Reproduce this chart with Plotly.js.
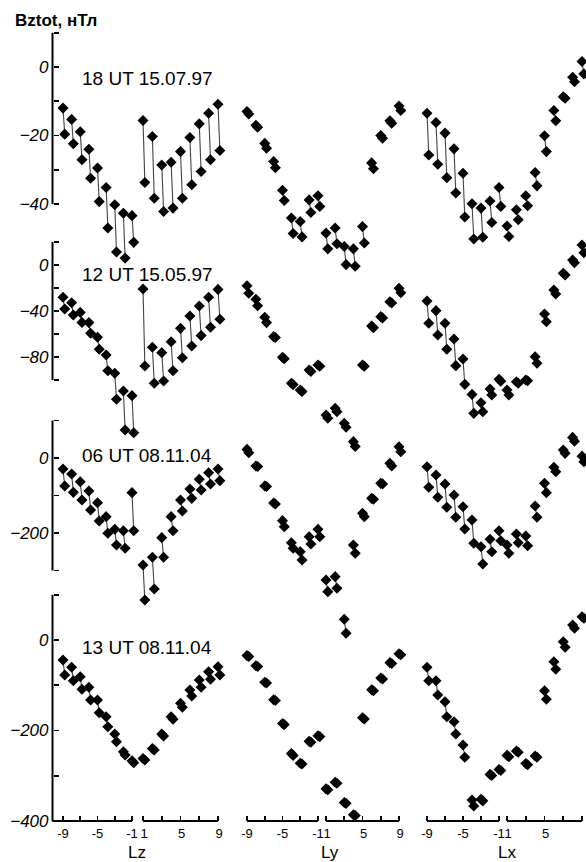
<!DOCTYPE html>
<html><head><meta charset="utf-8">
<script src="https://cdn.plot.ly/plotly-3.0.1.min.js"></script>
<style>html,body{margin:0;padding:0;background:#fff}#chart{width:586px;height:862px}
#chart g.ytick text, #chart g.y2tick text, #chart g.y3tick text, #chart g.y4tick text{font-style:italic !important}</style>
</head><body><div id="chart"></div>
<script>
// ---------- categories / labels ----------
const L_NEG = [-9,-8,-7,-6,-5,-4,-3,-2,-1];
const L_POS = [1,2,3,4,5,6,7,8,9];
const GROUP_NAMES = ['Lz','Ly','Lx'];
const ROW_LABELS = ['18 UT 15.07.97','12 UT 15.05.97','06 UT 08.11.04','13 UT 08.11.04'];
const Y_TITLE = 'Bztot, нТл';
const X_TICKS_NEG = [-9,-7,-5,-3,-1];
const X_TICKTEXT_NEG = ['-9','','-5','','-1'];
const X_TICKS_POS = [1,3,5,7,9];
const X_TICKTEXT_POS = ['1','','5','','9'];
const Y_TICKS_1 = [10,0,-10,-20,-30,-40];
const Y_TICKTEXT_1 = ['','0','','\u221220','','\u221240'];
const Y_TICKS_2 = [20,0,-20,-40,-60,-80,-100];
const Y_TICKTEXT_2 = ['','0','','\u221240','','\u221280',''];
const Y_TICKS_3 = [100,0,-100,-200,-300];
const Y_TICKTEXT_3 = ['','0','','\u2212200',''];
const Y_TICKS_4 = [100,0,-100,-200,-300,-400];
const Y_TICKTEXT_4 = ['','0','','\u2212200','','\u2212400'];

// ---------- values (L = -9..-1, then 1..9); A and B = the two values of each pair ----------
// Row 1: 18 UT 15.07.97
const r1_Lz_A = [-12.0,-15.3,-18.9,-24.0,-29.5,-35.2,-40.2,-42.7,-43.4, -15.6,-20.3,-28.6,-27.8,-24.7,-20.6,-16.6,-13.5,-10.9];
const r1_Lz_B = [-19.6,-22.4,-27.1,-32.5,-39.3,-47.0,-54.0,-55.8,-51.2, -33.7,-38.3,-42.2,-41.2,-38.3,-34.4,-30.5,-27.1,-24.4];
const r1_Ly_A = [-13.0,-17.0,-22.3,-27.6,-36.0,-44.1,-45.1,-38.8,-37.6, -48.5,-47.0,-52.4,-53.1,-46.6,-28.0,-20.0,-15.7,-11.4];
const r1_Ly_B = [-13.7,-17.6,-23.7,-29.4,-39.0,-48.6,-49.6,-42.5,-40.7, -53.1,-51.6,-57.7,-58.2,-51.4,-29.7,-20.8,-16.4,-12.7];
const r1_Lx_A = [-13.5,-16.2,-19.3,-23.9,-31.0,-39.9,-41.2,-39.1,-35.2, -46.4,-41.7,-37.6,-30.8,-20.1,-12.7,-8.7,-3.0,1.6];
const r1_Lx_B = [-25.7,-28.4,-32.3,-36.8,-43.8,-50.2,-49.7,-45.4,-40.7, -49.5,-44.6,-40.5,-34.7,-24.7,-15.7,-9.1,-4.3,-2.0];
// Row 2: 12 UT 15.05.97
const r2_Lz_A = [-28.1,-32.8,-41.2,-50.1,-62.9,-78.3,-94.2,-109.6,-113.6, -20.9,-71.6,-76.2,-66.7,-55.1,-44.3,-35.7,-28.1,-21.2];
const r2_Lz_B = [-38.3,-43.5,-49.9,-59.4,-73.3,-91.9,-116.8,-143.5,-145.8, -87.8,-102.9,-100.9,-91.9,-80.6,-70.4,-61.4,-54.2,-47.2];
const r2_Ly_A = [-18.0,-29.8,-45.5,-62.3,-80.3,-102.9,-108.7,-91.3,-87.0, -130.4,-124.6,-137.7,-153.6,-87.0,-53.0,-44.9,-31.9,-20.3];
const r2_Ly_B = [-24.6,-35.5,-50.1,-63.0,-81.5,-104.0,-110.0,-92.5,-88.0, -133.3,-127.5,-141.1,-157.9,-88.0,-54.5,-46.0,-33.0,-24.1];
const r2_Lx_A = [-31.3,-39.7,-50.7,-64.3,-81.7,-112.5,-119.7,-107.8,-99.4, -108.7,-101.5,-100.0,-79.7,-42.6,-21.7,-7.2,4.3,17.4];
const r2_Lx_B = [-50.7,-60.9,-73.3,-87.5,-103.8,-129.0,-127.5,-113.0,-101.0, -113.0,-102.9,-100.6,-85.5,-49.3,-25.2,-8.7,2.0,10.7];
// Row 3: 06 UT 08.11.04
const r3_Lz_A = [-29.3,-42.7,-63.1,-88.0,-119.1,-156.4,-190.2,-193.8,-92.4, -285.3,-264.9,-212.4,-156.4,-112.0,-82.7,-56.9,-39.1,-29.3];
const r3_Lz_B = [-74.7,-91.6,-112.0,-138.7,-168.0,-200.9,-232.0,-240.9,-193.8, -378.7,-349.3,-264.9,-193.8,-141.3,-107.6,-85.3,-69.3,-60.4];
const r3_Ly_A = [23.0,-21.3,-74.7,-120.0,-167.0,-225.8,-249.8,-209.8,-190.2, -325.3,-316.4,-430.0,-232.0,-147.5,-107.6,-67.6,-14.2,30.1];
const r3_Ly_B = [14.0,-22.5,-76.0,-122.7,-183.0,-240.9,-272.0,-229.3,-209.8, -356.4,-347.5,-467.5,-254.2,-156.4,-110.2,-69.0,-21.3,16.8];
const r3_Lx_A = [-23.2,-45.3,-69.3,-98.7,-129.9,-165.3,-236.5,-216.9,-193.8, -232.0,-202.7,-208.0,-128.0,-67.6,-24.9,21.3,55.0,5.0];
const r3_Lx_B = [-78.1,-104.9,-131.5,-158.2,-189.3,-227.5,-282.7,-249.8,-220.5, -254.2,-225.8,-233.8,-158.2,-92.4,-36.4,12.4,45.0,-10.0];
// Row 4: 13 UT 08.11.04
const r4_Lz_A = [-44.2,-60.3,-81.1,-104.5,-132.6,-169.5,-207.7,-246.8,-266.7, -262.0,-240.0,-208.0,-169.5,-139.9,-110.5,-88.4,-70.0,-59.0];
const r4_Lz_B = [-77.3,-89.9,-109.0,-132.6,-160.6,-191.6,-224.7,-254.1,-271.1, -265.0,-243.0,-212.0,-175.3,-148.7,-123.8,-104.5,-86.8,-77.3];
const r4_Ly_A = [-34.5,-57.0,-93.5,-132.0,-184.5,-251.0,-272.5,-224.0,-211.5, -329.0,-314.5,-359.0,-386.0,-172.0,-110.0,-84.0,-50.0,-30.5];
const r4_Ly_B = [-36.5,-58.5,-95.0,-133.5,-187.0,-255.0,-274.0,-226.0,-213.5, -331.0,-316.5,-361.0,-388.0,-174.5,-112.0,-86.0,-52.0,-32.5];
const r4_Lx_A = [-60.3,-89.9,-136.3,-180.5,-232.0,-353.6,-352.0,-297.0,-286.0, -255.0,-245.5,-273.0,-256.5,-112.0,-48.0,-3.7,33.1,51.5];
const r4_Lx_B = [-89.9,-121.5,-169.5,-207.7,-259.2,-366.9,-355.5,-299.5,-288.5, -258.0,-248.0,-275.5,-259.0,-131.0,-64.8,-16.1,25.8,48.0];

const ROWS = [
  {Lz:[r1_Lz_A,r1_Lz_B], Ly:[r1_Ly_A,r1_Ly_B], Lx:[r1_Lx_A,r1_Lx_B]},
  {Lz:[r2_Lz_A,r2_Lz_B], Ly:[r2_Ly_A,r2_Ly_B], Lx:[r2_Lx_A,r2_Lx_B]},
  {Lz:[r3_Lz_A,r3_Lz_B], Ly:[r3_Ly_A,r3_Ly_B], Lx:[r3_Lx_A,r3_Lx_B]},
  {Lz:[r4_Lz_A,r4_Lz_B], Ly:[r4_Ly_A,r4_Ly_B], Lx:[r4_Lx_A,r4_Lx_B]}
];

// ---------- geometry (pixels) ----------
const W = 586, H = 862, MB = 41, PH = H - MB;   // plot area 586 x 821
const PAIR_DX = 0.2;                            // small x shift of the second value of a pair
const X_CAL = [ // [value a, px a, value b, px b, range lo, range hi]
  [-9,63,-1,132,-10.25,-0.4],
  [1,143,9,218,0.5,9.6],
  [-9,247,-1,318,-9.6,-0.4],
  [1,326,9,399,0.4,9.6],
  [-9,427,-1,499,-9.6,-0.55],
  [1,507,9,582,0.55,9.4]
];
const Y_CAL = [ // [value a, py a, value b, py b, bracket top, bracket bottom]
  [0,67,-40,204,10,-40],
  [0,265,-80,357,20,-100],
  [0,458,-200,533,100,-300],
  [0,640,-400,821,100,-400]
];
const Y_AX_PX = 52.5;
const Y_TICKS = [[Y_TICKS_1,Y_TICKTEXT_1],[Y_TICKS_2,Y_TICKTEXT_2],[Y_TICKS_3,Y_TICKTEXT_3],[Y_TICKS_4,Y_TICKTEXT_4]];

const FONT = 'Liberation Sans, Arial, sans-serif';
const layout = {
  width: W, height: H, margin: {l:0, r:0, t:0, b:MB, pad:0},
  paper_bgcolor: '#fff', plot_bgcolor: 'rgba(0,0,0,0)',
  showlegend: false, font: {family: FONT, color: '#000'},
  shapes: [], annotations: []
};

X_CAL.forEach((c, i) => {
  const [va, pa, vb, pb, lo, hi] = c;
  const s = (pb - pa) / (vb - va);
  const d0 = (pa + s * (lo - va)) / W, d1 = (pa + s * (hi - va)) / W;
  const neg = i % 2 === 0;
  layout['xaxis' + (i === 0 ? '' : i + 1)] = {
    domain: [d0, Math.min(d1, 1)], range: [lo, hi], anchor: 'free', position: 0,
    showgrid: false, zeroline: false, showline: false,
    tickmode: 'array', tickvals: neg ? X_TICKS_NEG : X_TICKS_POS,
    ticktext: neg ? X_TICKTEXT_NEG : X_TICKTEXT_POS,
    ticks: 'inside', ticklen: 5, tickwidth: 1.6, tickcolor: '#000',
    ticklabelstandoff: 3, ticklabelshift: neg ? -2.5 : 1,
    tickfont: {family: FONT, size: 13, color: '#000'}
  };
  layout.shapes.push({type:'line', xref: 'x' + (i === 0 ? '' : i + 1), yref:'paper',
    x0: neg ? (i === 0 ? lo : -9) : 1, x1: neg ? -1 : 9, y0: 0, y1: 0,
    line: {color:'#000', width: 2}});
});

Y_CAL.forEach((c, r) => {
  const [va, pa, vb, pb, top, bot] = c;
  const s = (pb - pa) / (vb - va);
  const vTop = va + (0 - pa) / s, vBot = va + (PH - pa) / s;
  const id = r === 0 ? '' : r + 1;
  layout['yaxis' + id] = {
    domain: [0, 1], range: [vBot, vTop], anchor: 'free', position: Y_AX_PX / W,
    showgrid: false, zeroline: false, showline: false,
    tickmode: 'array', tickvals: Y_TICKS[r][0],
    ticktext: Y_TICKS[r][1].map(t => t ? '<i>' + t + '</i>' : ''),
    ticks: 'inside', ticklen: 5, tickwidth: 1.8, tickcolor: '#000',
    ticklabelstandoff: 4,
    tickfont: {family: FONT, size: 17, color: '#000', style: 'italic'}
  };
  layout.shapes.push({type:'line', xref:'paper', yref:'y' + id,
    x0: Y_AX_PX / W, x1: Y_AX_PX / W, y0: top, y1: bot, line:{color:'#000', width:2}});
});

const py2paper = py => (PH - py) / PH;
// row labels
const ROW_LABEL_PY = [79, 274, 455, 647];
ROW_LABELS.forEach((t, r) => layout.annotations.push({
  text: t, xref:'paper', yref:'paper', x: 147 / W, y: py2paper(ROW_LABEL_PY[r]),
  xanchor:'center', yanchor:'middle', showarrow:false, font:{family:FONT, size:19, color:'#000'}}));
// x titles
const X_TITLE_PX = [137, 330, 507];
GROUP_NAMES.forEach((t, g) => layout.annotations.push({
  text: t, xref:'paper', yref:'paper', x: X_TITLE_PX[g] / W, y: py2paper(852),
  xanchor:'center', yanchor:'middle', showarrow:false, font:{family:FONT, size:17, color:'#000'}}));
// y title
layout.annotations.push({text: '<b>' + Y_TITLE + '</b>', xref:'paper', yref:'paper',
  x: 13 / W, y: py2paper(21), xanchor:'left', yanchor:'middle', showarrow:false,
  font:{family:FONT, size:17, color:'#000'}});

// ---------- traces ----------
const traces = [];
ROWS.forEach((row, r) => {
  const yid = 'y' + (r === 0 ? '' : r + 1);
  GROUP_NAMES.forEach((g, gi) => {
    const [A, B] = row[g];
    [L_NEG, L_POS].forEach((Ls, h) => {
      const xi = gi * 2 + h;
      const xid = 'x' + (xi === 0 ? '' : xi + 1);
      const off = h * 9;
      const lx = [], ly = [], mx = [], my = [];
      Ls.forEach((L, k) => {
        const a = A[off + k], b = B[off + k];
        lx.push(L, L + PAIR_DX, null); ly.push(a, b, null);
        mx.push(L, L + PAIR_DX); my.push(a, b);
      });
      traces.push({type:'scatter', mode:'lines', x: lx, y: ly, xaxis: xid, yaxis: yid,
        line:{color:'#444', width:1.1}, hoverinfo:'skip', cliponaxis:false});
      traces.push({type:'scatter', mode:'markers', x: mx, y: my, xaxis: xid, yaxis: yid,
        marker:{symbol:'diamond', size:8.5, color:'#000', line:{width:0}}, cliponaxis:false});
    });
  });
});

Plotly.newPlot('chart', traces, layout, {staticPlot:true, displayModeBar:false});
</script></body></html>
